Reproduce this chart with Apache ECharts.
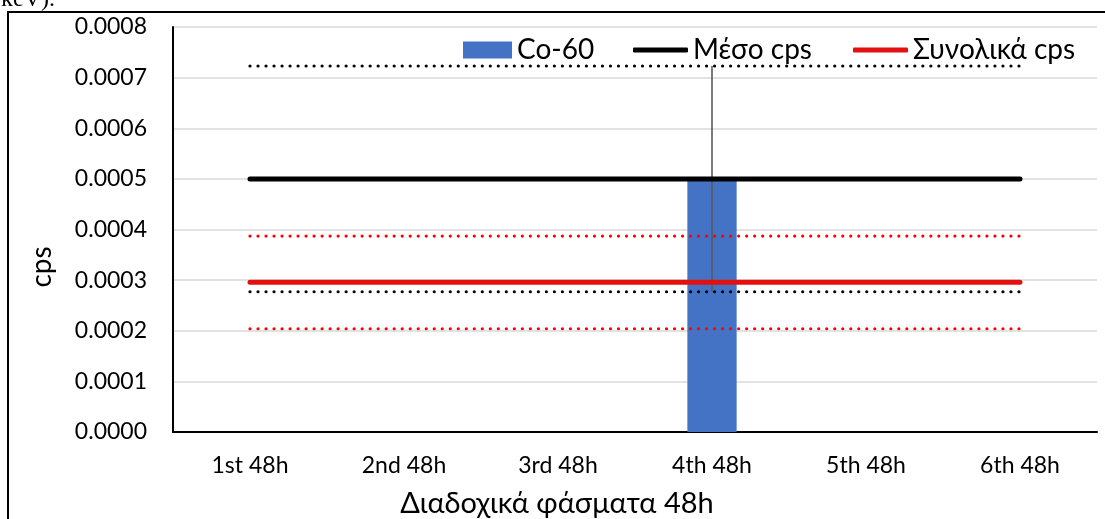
<!DOCTYPE html>
<html>
<head>
<meta charset="utf-8">
<title>Co-60 cps</title>
<script src="https://cdn.jsdelivr.net/npm/echarts@6/dist/echarts.min.js"></script>
<style>
  html, body { margin: 0; padding: 0; background: #ffffff; }
  #chart { width: 1105px; height: 519px; }
</style>
</head>
<body>
<div id="chart"></div>
<script>
// Successive 48h spectra
const categories = ['1st 48h', '2nd 48h', '3rd 48h', '4th 48h', '5th 48h', '6th 48h'];

// Co-60 counts per second, with its uncertainty
const co60 = [null, null, null, 0.0005, null, null];
const co60Err = [null, null, null, 0.000223, null, null];

// Mean cps with its upper / lower band
const meanCps = [0.0005, 0.0005, 0.0005, 0.0005, 0.0005, 0.0005];
const meanUpper = [0.000723, 0.000723, 0.000723, 0.000723, 0.000723, 0.000723];
const meanLower = [0.000277, 0.000277, 0.000277, 0.000277, 0.000277, 0.000277];

// Total cps with its upper / lower band
const totalCps = [0.000296, 0.000296, 0.000296, 0.000296, 0.000296, 0.000296];
const totalUpper = [0.000387, 0.000387, 0.000387, 0.000387, 0.000387, 0.000387];
const totalLower = [0.000204, 0.000204, 0.000204, 0.000204, 0.000204, 0.000204];

// Y-axis ticks
const yMin = 0, yMax = 0.0008, yStep = 0.0001;

const FONT = 'Lato';
const FS = 23;      // tick labels
const FS_BIG = 28;  // legend and axis titles

// Error-bar segments: [categoryIndex, low, high]
const errData = [];
co60.forEach((v, i) => {
  if (v != null && co60Err[i] != null) errData.push([i, v - co60Err[i], v + co60Err[i]]);
});

const dotted = (color) => ({ color: color, width: 3.2, type: [0.01, 8], cap: 'round' });

const legendText = { fontFamily: FONT, fontSize: FS_BIG, color: '#000', lineHeight: 30 };
const lineLegend = (name, left) => ({
  data: [name], left: left, top: 35, padding: 0,
  icon: 'roundRect', itemWidth: 55, itemHeight: 5,
  textStyle: legendText
});

const chart = echarts.init(document.getElementById('chart'), null, { renderer: 'canvas' });

chart.setOption({
  animation: false,
  backgroundColor: '#ffffff',
  textStyle: { fontFamily: FONT },
  grid: { left: 173, right: 8, top: 27, bottom: 87, containLabel: false },
  legend: [
    {
      data: ['Co-60'],
      left: 463, top: 35, padding: 0,
      icon: 'rect', itemWidth: 49, itemHeight: 17,
      textStyle: legendText
    },
    lineLegend('Μέσο cps', 633),
    lineLegend('Συνολικά cps', 853)
  ],
  xAxis: {
    type: 'category',
    data: categories,
    boundaryGap: true,
    axisLine: { show: true, lineStyle: { color: '#000', width: 2 } },
    axisTick: { show: false },
    axisLabel: { fontFamily: FONT, fontSize: FS, color: '#000', margin: 22 },
    splitLine: { show: false }
  },
  yAxis: {
    type: 'value',
    min: yMin, max: yMax, interval: yStep,
    axisLine: { show: true, lineStyle: { color: '#000', width: 2 } },
    axisTick: { show: false },
    axisLabel: {
      fontFamily: FONT, fontSize: FS, color: '#000', margin: 26,
      formatter: (v) => v.toFixed(4)
    },
    splitLine: { show: true, lineStyle: { color: '#d9d9d9', width: 1.5 } }
  },
  series: [
    {
      name: 'Co-60',
      type: 'bar',
      data: co60,
      barWidth: '32%',
      itemStyle: { color: '#4472C4' },
      z: 2
    },
    {
      name: 'Co-60 error',
      type: 'custom',
      data: errData,
      z: 3,
      silent: true,
      renderItem: (params, api) => {
        const lo = api.coord([api.value(0), api.value(1)]);
        const hi = api.coord([api.value(0), api.value(2)]);
        return {
          type: 'line',
          shape: { x1: lo[0], y1: lo[1], x2: hi[0], y2: hi[1] },
          style: { stroke: '#5a5a5a', lineWidth: 1.6 }
        };
      }
    },
    {
      name: 'Μέσο cps upper',
      type: 'line', data: meanUpper, symbol: 'none', silent: true, z: 4,
      lineStyle: dotted('#000000')
    },
    {
      name: 'Μέσο cps lower',
      type: 'line', data: meanLower, symbol: 'none', silent: true, z: 4,
      lineStyle: dotted('#000000')
    },
    {
      name: 'Συνολικά cps upper',
      type: 'line', data: totalUpper, symbol: 'none', silent: true, z: 4,
      lineStyle: dotted('#ff0000')
    },
    {
      name: 'Συνολικά cps lower',
      type: 'line', data: totalLower, symbol: 'none', silent: true, z: 4,
      lineStyle: dotted('#ff0000')
    },
    {
      name: 'Μέσο cps',
      type: 'line', data: meanCps, symbol: 'none', z: 5,
      itemStyle: { color: '#000000' },
      lineStyle: { color: '#000000', width: 5, cap: 'round' }
    },
    {
      name: 'Συνολικά cps',
      type: 'line', data: totalCps, symbol: 'none', z: 5,
      itemStyle: { color: '#e31010' },
      lineStyle: { color: '#e31010', width: 5, cap: 'round' }
    }
  ],
  graphic: [
    {
      // chart-area frame
      type: 'rect',
      shape: { x: 8, y: 12, width: 1200, height: 600 },
      style: { fill: 'none', stroke: '#000', lineWidth: 2 },
      silent: true
    },
    {
      // tail of the caption line above the chart
      type: 'text',
      x: 1, y: 12,
      style: {
        text: 'keV).',
        fontSize: 24,
        fontFamily: 'Liberation Serif',
        fill: '#000',
        align: 'left',
        verticalAlign: 'bottom'
      },
      silent: true
    },
    {
      // x-axis title
      type: 'text',
      x: 557, y: 504,
      style: {
        text: 'Διαδοχικά φάσματα 48h',
        fontSize: 29,
        fontFamily: FONT,
        fill: '#000',
        align: 'center',
        verticalAlign: 'middle'
      },
      silent: true
    },
    {
      // y-axis title
      type: 'text',
      x: 42, y: 267,
      rotation: Math.PI / 2,
      style: {
        text: 'cps',
        fontSize: FS_BIG,
        fontFamily: FONT,
        fill: '#000',
        align: 'center',
        verticalAlign: 'middle'
      },
      silent: true
    }
  ]
});
</script>
</body>
</html>
